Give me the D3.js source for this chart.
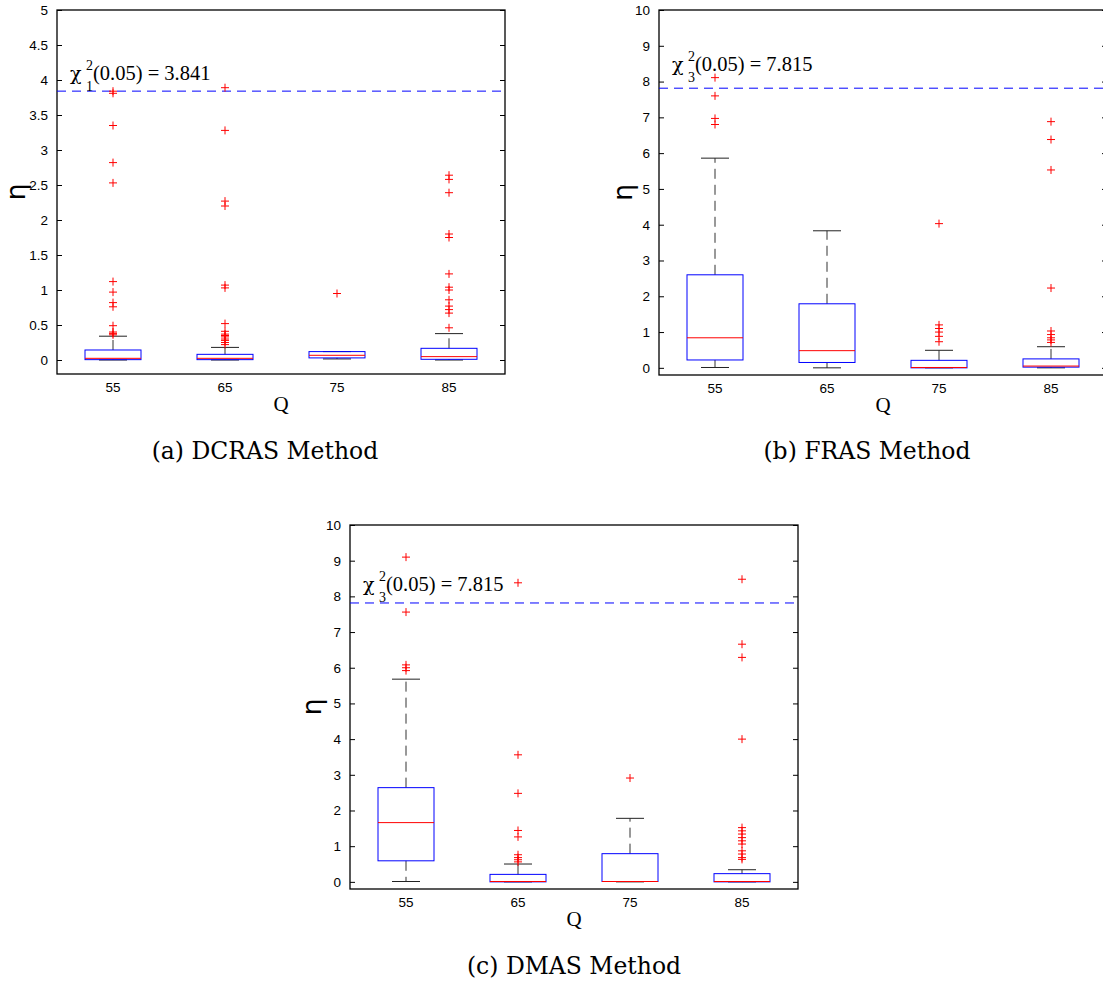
<!DOCTYPE html>
<html>
<head>
<meta charset="utf-8">
<script src="https://cdn.jsdelivr.net/npm/d3@7"></script>
<style>
  body { margin: 0; background: #fff; }
  svg { display: block; }
</style>
</head>
<body>
<div id="vis"></div>
<script>
const FRAME_WIDTH = 1103;
const FRAME_HEIGHT = 985;

const categories = ["55", "65", "75", "85"];
const ticksSmall = [0, 0.5, 1, 1.5, 2, 2.5, 3, 3.5, 4, 4.5, 5];
const ticksLarge = [0, 1, 2, 3, 4, 5, 6, 7, 8, 9, 10];

// [lower whisker, q1, median, q3, upper whisker] per category
const dcrasStats = [
  [0, 0.005, 0.024, 0.143, 0.34],
  [0, 0.005, 0.024, 0.081, 0.18],
  [0.015, 0.03, 0.067, 0.12, 0.12],
  [0, 0.01, 0.048, 0.167, 0.377]
];
const dcrasOutliers = [
  [0.36, 0.38, 0.40, 0.49, 0.76, 0.82, 0.97, 1.12, 2.53, 2.82, 3.35, 3.81, 3.84],
  [0.22, 0.25, 0.28, 0.30, 0.33, 0.35, 0.37, 0.41, 0.52, 1.03, 1.07, 2.2, 2.27, 3.28, 3.89],
  [0.95],
  [0.46, 0.67, 0.72, 0.77, 0.86, 1.0, 1.04, 1.23, 1.75, 1.8, 2.39, 2.58, 2.64]
];

const frasStats = [
  [0.01, 0.22, 0.84, 2.6, 5.86],
  [0, 0.15, 0.48, 1.79, 3.83],
  [0, 0, 0.01, 0.21, 0.49],
  [0, 0.02, 0.05, 0.25, 0.59]
];
const frasOutliers = [
  [6.8, 6.97, 7.6, 8.11],
  [],
  [0.73, 0.88, 1.0, 1.1, 1.2, 4.03],
  [0.71, 0.78, 0.84, 0.93, 1.03, 2.23, 5.53, 6.38, 6.88]
];

const dmasStats = [
  [0.01, 0.59, 1.66, 2.64, 5.68],
  [0, 0, 0.01, 0.21, 0.50],
  [0, 0.01, 0.01, 0.79, 1.78],
  [0, 0, 0.01, 0.23, 0.34]
];
const dmasOutliers = [
  [5.92, 6.0, 6.08, 7.56, 9.1],
  [0.56, 0.62, 0.68, 0.76, 1.26, 1.44, 2.48, 3.56, 8.38],
  [2.91],
  [0.63, 0.68, 0.78, 0.87, 1.06, 1.15, 1.24, 1.34, 1.43, 1.52, 4.0, 6.29, 6.66, 8.48]
];

const PANELS = [
  { left: 57, top: 10, height: 364, yMax: 5, ticks: ticksSmall, stats: dcrasStats, outliers: dcrasOutliers,
    critical: 3.841, df: "1", labelY: 4.0, etaDx: -40, caption: "(a) DCRAS Method", capX: 265, capY: 459 },
  { left: 659, top: 10, height: 365, yMax: 10, ticks: ticksLarge, stats: frasStats, outliers: frasOutliers,
    critical: 7.815, df: "3", labelY: 8.3, etaDx: -35, caption: "(b) FRAS Method", capX: 867, capY: 459 },
  { left: 350, top: 525, height: 364, yMax: 10, ticks: ticksLarge, stats: dmasStats, outliers: dmasOutliers,
    critical: 7.815, df: "3", labelY: 8.15, etaDx: -37, caption: "(c) DMAS Method", capX: 574, capY: 974 }
];
const PLOT_WIDTH = 448;

const FRAME = d3.select("#vis")
  .append("svg")
  .attr("width", FRAME_WIDTH)
  .attr("height", FRAME_HEIGHT);

function drawPanel(p) {
  const g = FRAME.append("g").attr("transform", `translate(${p.left},${p.top})`);

  const X_SCALE = d3.scaleBand().domain(categories).range([0, PLOT_WIDTH]).padding(0);
  const Y_SCALE = d3.scaleLinear().domain([-0.2, p.yMax]).range([p.height, 0]);
  const bw = X_SCALE.bandwidth();
  const boxW = bw * 0.5;
  const capW = bw * 0.25;
  const cx = (i) => X_SCALE(categories[i]) + bw / 2;

  // frame
  g.append("rect")
    .attr("x", 0).attr("y", 0)
    .attr("width", PLOT_WIDTH).attr("height", p.height)
    .attr("fill", "none").attr("stroke", "#000").attr("stroke-width", 1.3);

  // y ticks, left and right, pointing inward
  g.append("g")
    .call(d3.axisLeft(Y_SCALE).tickValues(p.ticks).tickSize(-5).tickPadding(9).tickFormat(d3.format("")))
    .call(a => a.select(".domain").remove())
    .attr("font-family", "'Liberation Sans', Arial, sans-serif")
    .attr("font-size", 13.5);
  g.append("g")
    .attr("transform", `translate(${PLOT_WIDTH},0)`)
    .call(d3.axisRight(Y_SCALE).tickValues(p.ticks).tickSize(-5).tickFormat(""))
    .call(a => a.select(".domain").remove());

  // x labels
  g.selectAll(".xlab")
    .data(categories)
    .enter()
    .append("text")
    .attr("x", d => X_SCALE(d) + bw / 2)
    .attr("y", p.height + 18)
    .attr("text-anchor", "middle")
    .attr("font-family", "'Liberation Sans', Arial, sans-serif")
    .attr("font-size", 13.5)
    .text(d => d);

  // critical value line
  g.append("line")
    .attr("x1", 0).attr("x2", PLOT_WIDTH)
    .attr("y1", Y_SCALE(p.critical)).attr("y2", Y_SCALE(p.critical))
    .attr("stroke", "#0000ff").attr("stroke-width", 1)
    .attr("stroke-dasharray", "9,6");

  // boxes
  p.stats.forEach((s, i) => {
    const x = cx(i);
    const [lo, q1, med, q3, hi] = s;
    const bx = g.append("g");
    bx.append("line")
      .attr("x1", x).attr("x2", x)
      .attr("y1", Y_SCALE(q3)).attr("y2", Y_SCALE(hi))
      .attr("stroke", "#333").attr("stroke-dasharray", "10,6");
    bx.append("line")
      .attr("x1", x).attr("x2", x)
      .attr("y1", Y_SCALE(q1)).attr("y2", Y_SCALE(lo))
      .attr("stroke", "#333").attr("stroke-dasharray", "10,6");
    [lo, hi].forEach(v => {
      bx.append("line")
        .attr("x1", x - capW / 2).attr("x2", x + capW / 2)
        .attr("y1", Y_SCALE(v)).attr("y2", Y_SCALE(v))
        .attr("stroke", "#222");
    });
    bx.append("rect")
      .attr("x", x - boxW / 2)
      .attr("y", Y_SCALE(q3))
      .attr("width", boxW)
      .attr("height", Math.max(0, Y_SCALE(q1) - Y_SCALE(q3)))
      .attr("fill", "none").attr("stroke", "#0000ff");
    bx.append("line")
      .attr("x1", x - boxW / 2).attr("x2", x + boxW / 2)
      .attr("y1", Y_SCALE(med)).attr("y2", Y_SCALE(med))
      .attr("stroke", "#ff0000");
  });

  // outliers
  p.outliers.forEach((arr, i) => {
    const x = cx(i);
    g.selectAll(null)
      .data(arr)
      .enter()
      .append("path")
      .attr("d", d => {
        const y = Y_SCALE(d);
        return `M${x - 4},${y}H${x + 4}M${x},${y - 4}V${y + 4}`;
      })
      .attr("stroke", "#ff0000").attr("stroke-width", 1).attr("fill", "none");
  });

  // chi-square label
  const lx = 13;
  const ly = Y_SCALE(p.labelY);
  const serif = "'Liberation Serif', 'Times New Roman', serif";
  g.append("text").attr("x", lx).attr("y", ly)
    .attr("font-family", "'DejaVu Serif', serif").attr("font-size", 19).text("χ");
  g.append("text").attr("x", lx + 16).attr("y", ly - 10)
    .attr("font-family", serif).attr("font-size", 14).text("2");
  g.append("text").attr("x", lx + 16).attr("y", ly + 11)
    .attr("font-family", serif).attr("font-size", 14).text(p.df);
  g.append("text").attr("x", lx + 23).attr("y", ly)
    .attr("font-family", serif).attr("font-size", 20.5)
    .text(`(0.05) = ${p.critical.toFixed(3)}`);

  // axis titles
  g.append("text")
    .attr("x", PLOT_WIDTH / 2).attr("y", p.height + 37)
    .attr("text-anchor", "middle")
    .attr("font-family", serif).attr("font-size", 21)
    .text("Q");
  g.append("text")
    .attr("transform", `translate(${p.etaDx + 8},${p.height / 2}) rotate(-90)`)
    .attr("text-anchor", "middle")
    .attr("font-family", "'DejaVu Sans', sans-serif").attr("font-size", 27)
    .text("η");

  // caption
  FRAME.append("text")
    .attr("x", p.capX).attr("y", p.capY)
    .attr("text-anchor", "middle")
    .attr("font-family", "'DejaVu Serif', serif")
    .attr("font-size", 23.5)
    .text(p.caption);
}

PANELS.forEach(drawPanel);
</script>
</body>
</html>
